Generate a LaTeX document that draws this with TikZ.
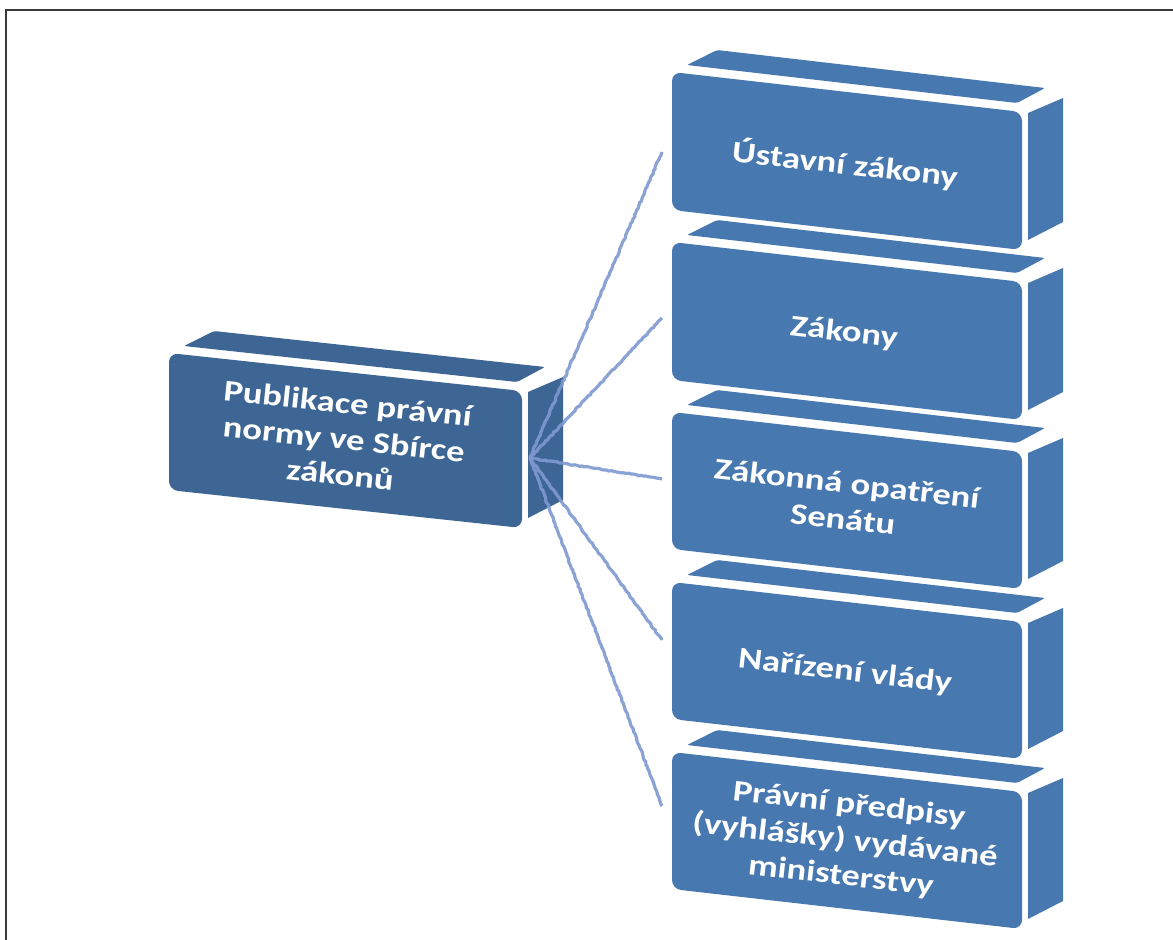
\documentclass[tikz,border=0pt]{standalone}
\usepackage{fontspec}
\setmainfont{Carlito}
\newfontfamily\boxfont{Carlito}[FakeStretch=1.22]
\usetikzlibrary{decorations.pathmorphing}
\definecolor{boxR}{HTML}{4878B0}
\definecolor{boxL}{HTML}{3E6694}
\definecolor{conn}{HTML}{7F99D0}
\definecolor{framecol}{HTML}{3A3A3A}
% #1 x, #2 y, #3 w, #4 h, #5 slant, #6 colour
\newcommand{\cubeshape}[6]{%
  \fill[#6, rounded corners=9pt] (#1,#2) -- ({#1+#3},{#2+#5}) -- ({#1+#3},{#2+#5+#4}) -- (#1,{#2+#4}) -- cycle;
  \fill[#6, rounded corners=2pt] ({#1+15},{#2-7}) -- ({#1+45},{#2-22}) -- ({#1+#3+23},{#2+#5-24}) -- ({#1+#3-5},{#2+#5-9}) -- cycle;
  \fill[#6] ({#1+#3+6},{#2+#5+1}) -- ({#1+#3+41},{#2+#5-14}) -- ({#1+#3+41},{#2+#5+#4-28}) -- ({#1+#3+6},{#2+#5+#4-10}) -- cycle;
}
\tikzset{
  lbl/.style={text=white, align=center, inner sep=0pt, font=\boxfont\bfseries\fontsize{30}{36}\selectfont},
  conline/.style={conn, opacity=0.9, line width=3.2pt, decorate,
    decoration={random steps, segment length=2.5pt, amplitude=0.6pt}},
}
\begin{document}
\begin{tikzpicture}[x=1pt,y=-1pt]
\useasboundingbox (0,0) rectangle (1173,940);
\fill[white] (0,0) rectangle (1173,940);
\draw[framecol, line width=2pt] (6,940) -- (6,9.5) -- (1173,9.5);

% left box
\cubeshape{169}{353}{353}{137}{38}{boxL}
\node[lbl, rotate=-6.1] (pub) at (344,439) {Publikace právní\\normy ve Sbírce\\zákonů};

% right boxes
\cubeshape{672}{72}{350}{138}{40}{boxR}
\node[lbl, rotate=-6.5] (ust) at (845,164) {Ústavní zákony};
\cubeshape{672}{242}{350}{138}{40}{boxR}
\node[lbl, rotate=-6.5] (zak) at (844,333) {Zákony};
\cubeshape{672}{412}{350}{137}{40}{boxR}
\node[lbl, rotate=-6.5] (zop) at (845,501) {Zákonná opatření\\Senátu};
\cubeshape{672}{582}{350}{137}{40}{boxR}
\node[lbl, rotate=-6.5] (nar) at (845,672) {Nařízení vlády};
\cubeshape{672}{752}{350}{137}{40}{boxR}
\node[lbl, rotate=-6.5] (prp) at (845,841) {Právní předpisy\\(vyhlášky) vydávané\\ministerstvy};

% connectors
\pgfmathsetseed{7}
\coordinate (hub) at (530,458);
\coordinate (e1) at (662,152);
\coordinate (e2) at (662,318);
\coordinate (e3) at (662,479);
\coordinate (e4) at (662,640);
\coordinate (e5) at (662,806);
\foreach \e in {e1,e2,e3,e4,e5} {\draw[conline] (hub) -- (\e);}
\end{tikzpicture}
\end{document}
